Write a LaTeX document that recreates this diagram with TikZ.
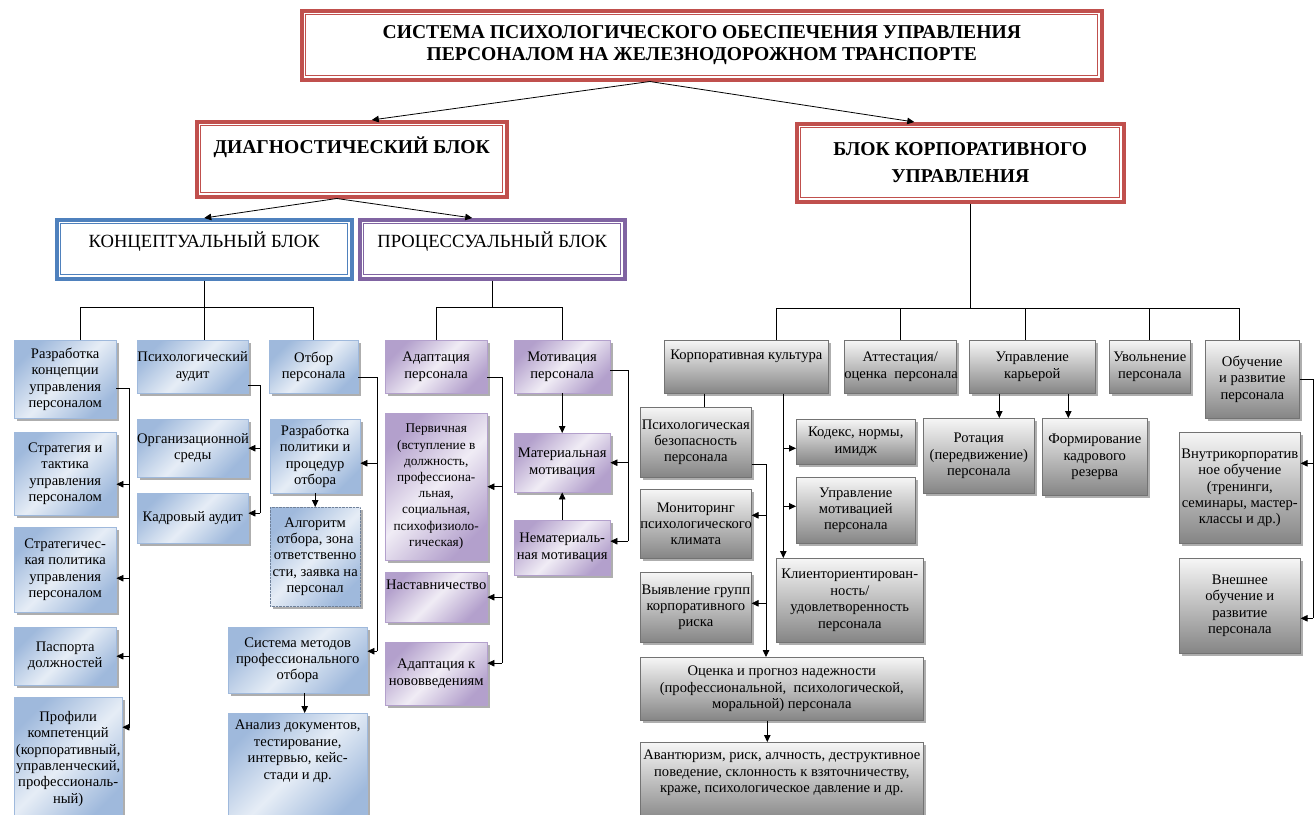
\documentclass[tikz,border=0pt]{standalone}
\usepackage{fontspec}
\setmainfont{Liberation Serif}
\usetikzlibrary{arrows.meta,shadows}
\definecolor{rd}{HTML}{C0504D}
\definecolor{bl}{HTML}{4F81BD}
\definecolor{pu}{HTML}{8064A2}
\definecolor{bfA}{HTML}{9FB9DC}
\definecolor{bfB}{HTML}{E6EDF6}
\definecolor{pfA}{HTML}{B3A0CC}
\definecolor{pfB}{HTML}{F0ECF5}
\definecolor{gA}{HTML}{F6F6F6}
\definecolor{gB}{HTML}{858585}
\newcommand{\bt}[3]{\parbox[c][#2][c]{#1}{\centering #3\par}}
\newcommand{\btt}[4]{\parbox[c][#2][t]{#1}{\centering\vspace*{#3}#4\par}}
\newcommand{\hd}{\fontsize{19.6}{21.5}\selectfont\bfseries}
\tikzset{
  frame/.style={anchor=north west, inner sep=0pt, fill=white, line width=3.5pt,
    path picture={\draw[#1, line width=0.8pt]
      ([shift={(4pt,-4pt)}]path picture bounding box.north west) rectangle
      ([shift={(-4pt,4pt)}]path picture bounding box.south east);}},
  redframe/.style={frame=rd, draw=rd},
  blueframe/.style={frame=bl, draw=bl},
  purpframe/.style={frame=pu, draw=pu},
  sh/.style={drop shadow={shadow xshift=3pt, shadow yshift=-3pt, opacity=0.45, fill=black!70}},
  bbox/.style={anchor=north west, inner sep=0pt, draw=bfA, line width=0.4pt, sh,
    left color=bfA, right color=bfA, middle color=bfB, shading angle=45},
  pbox/.style={anchor=north west, inner sep=0pt, draw=pfA, line width=0.4pt, sh,
    left color=pfA, right color=pfA, middle color=pfB, shading angle=45},
  gbox/.style={anchor=north west, inner sep=0pt, draw=black!55, line width=0.6pt, sh,
    top color=gA, bottom color=gB},
  line/.style={draw=black, line width=0.8pt},
  arr/.style={line, -{Triangle[length=7pt,width=6.5pt]}},
}
\begin{document}
\begin{tikzpicture}[x=1pt,y=-1pt, font=\fontsize{14.6}{16.4}\selectfont]
\path[use as bounding box, fill=white] (0,0) rectangle (1316,814);

% level 1-3
\node[redframe] (title) at (300,9) {\bt{800pt}{69pt}{\hd СИСТЕМА ПСИХОЛОГИЧЕСКОГО ОБЕСПЕЧЕНИЯ УПРАВЛЕНИЯ\\ПЕРСОНАЛОМ НА ЖЕЛЕЗНОДОРОЖНОМ ТРАНСПОРТЕ}};
\node[redframe] (diag) at (195,120) {\btt{310pt}{75pt}{15pt}{\hd ДИАГНОСТИЧЕСКИЙ БЛОК}};
\node[redframe] (corp) at (795,122) {\bt{327pt}{78pt}{\fontsize{19.6}{27}\selectfont\bfseries БЛОК КОРПОРАТИВНОГО\\УПРАВЛЕНИЯ}};
\node[blueframe] (konc) at (55,218) {\btt{295pt}{59pt}{12pt}{\fontsize{18.6}{20}\selectfont КОНЦЕПТУАЛЬНЫЙ БЛОК}};
\node[purpframe] (proc) at (358,218) {\btt{265pt}{59pt}{12pt}{\fontsize{18.6}{20}\selectfont ПРОЦЕССУАЛЬНЫЙ БЛОК}};

% conceptual block
\node[bbox] (razr) at (14,340) {\bt{102pt}{78pt}{Разработка\\концепции\\управления\\персоналом}};
\node[bbox] (strat) at (14,432) {\bt{102pt}{83pt}{Стратегия и\\тактика\\управления\\персоналом}};
\node[bbox] (stratpol) at (14,527) {\bt{102pt}{85pt}{Стратегичес-\\кая политика\\управления\\персоналом}};
\node[bbox] (pasp) at (14,627) {\bt{102pt}{58pt}{Паспорта\\должностей}};
\node[bbox] (prof) at (14,697) {\bt{108pt}{123pt}{Профили\\компетенций\\(корпоративный,\\управленческий,\\профессиональ-\\ный)}};
\node[bbox] (psaud) at (137,340) {\bt{111pt}{53pt}{Психологический\\аудит}};
\node[bbox] (org) at (137,419) {\bt{111pt}{58pt}{Организационной\\среды}};
\node[bbox] (kadr) at (137,493) {\bt{111pt}{50pt}{Кадровый аудит}};
\node[bbox] (otbor) at (269,340) {\bt{89pt}{53pt}{Отбор\\персонала}};
\node[bbox] (razpol) at (270,419) {\bt{90pt}{74pt}{Разработка\\политики и\\процедур\\отбора}};
\node[bbox, draw=bfA!70!black, densely dotted] (algo) at (270,507) {\bt{90pt}{99pt}{Алгоритм\\отбора, зона\\ответственно\\сти, заявка на\\персонал}};
\node[bbox] (sist) at (228,627) {\bt{139pt}{66pt}{Система методов\\профессионального\\отбора}};
\node[bbox] (anal) at (228,713) {\btt{139pt}{110pt}{7pt}{Анализ документов,\\тестирование,\\интервью, кейс-\\стади и др.}};

% process block
\node[pbox] (adapt) at (385,340) {\bt{102pt}{53pt}{Адаптация\\персонала}};
\node[pbox] (perv) at (385,413) {\bt{102pt}{147pt}{\fontsize{13.3}{16.2}\selectfont Первичная\\(вступление в\\должность,\\профессиона-\\льная,\\социальная,\\психофизиоло-\\гическая)}};
\node[pbox] (nast) at (385,572) {\btt{102pt}{50pt}{8pt}{Наставничество}};
\node[pbox] (adnov) at (385,642) {\bt{102pt}{63pt}{Адаптация к\\нововведениям}};
\node[pbox] (motiv) at (514,340) {\bt{96pt}{53pt}{Мотивация\\персонала}};
\node[pbox] (mat) at (514,433) {\bt{96pt}{59pt}{Материальная\\мотивация}};
\node[pbox] (nemat) at (514,520) {\bt{96pt}{55pt}{Нематериаль-\\ная мотивация}};

% corporate block
\node[gbox] (kk) at (664,340) {\btt{164pt}{53pt}{10pt}{Корпоративная культура}};
\node[gbox] (att) at (844,340) {\bt{112pt}{53pt}{Аттестация/\\\mbox{оценка\ \ персонала}}};
\node[gbox] (upk) at (969,340) {\bt{126pt}{53pt}{Управление\\карьерой}};
\node[gbox] (uvol) at (1109,340) {\bt{81pt}{53pt}{Увольнение\\персонала}};
\node[gbox] (obuch) at (1205,340) {\bt{94pt}{78pt}{Обучение\\и развитие\\персонала}};
\node[gbox] (psb) at (640,407) {\bt{111pt}{70pt}{Психологическая\\безопасность\\персонала}};
\node[gbox] (monit) at (640,489) {\bt{111pt}{69pt}{Мониторинг\\психологического\\климата}};
\node[gbox] (vyyav) at (640,572) {\bt{111pt}{70pt}{\mbox{Выявление групп}\\корпоративного\\риска}};
\node[gbox] (kodeks) at (796,419) {\bt{119pt}{45pt}{Кодекс, нормы,\\имидж}};
\node[gbox] (upmot) at (796,477) {\bt{119pt}{66pt}{Управление\\мотивацией\\персонала}};
\node[gbox] (klient) at (776,558) {\bt{147pt}{84pt}{Клиенториентирован-\\ность/\\удовлетворенность\\персонала}};
\node[gbox] (ocenka) at (640,657) {\bt{283pt}{63pt}{Оценка и прогноз надежности\\(профессиональной,\ \ психологической,\\моральной) персонала}};
\node[gbox] (avant) at (640,742) {\btt{283pt}{80pt}{8pt}{Авантюризм, риск, алчность, деструктивное\\поведение, склонность к взяточничеству,\\краже, психологическое давление и др.}};
\node[gbox] (rot) at (923,418) {\bt{111pt}{75pt}{Ротация\\(передвижение)\\персонала}};
\node[gbox] (form) at (1042,418) {\bt{105pt}{77pt}{Формирование\\кадрового\\резерва}};
\node[gbox] (vnutr) at (1179,432) {\bt{121pt}{111pt}{Внутрикорпоратив\\ное обучение\\(тренинги,\\семинары, мастер-\\классы и др.)}};
\node[gbox] (vnesh) at (1179,558) {\bt{121pt}{95pt}{Внешнее\\обучение и\\развитие\\персонала}};

% ---------- connectors ----------
\coordinate (tA) at ([xshift=-52pt]title.south);
\draw[arr] (tA) -- ([xshift=20pt]diag.north);
\draw[arr] (tA) -- ([xshift=-46pt]corp.north);
\coordinate (dA) at ([xshift=-15pt]diag.south);
\draw[arr] (dA) -- (konc.north);
\draw[arr] (dA) -- ([xshift=-20pt]proc.north);

\coordinate (kb) at (0,307);
\draw[line] (konc.south) -- (konc.south |- psaud.north);
\coordinate (rz) at ([xshift=15pt]razr.north);
\draw[line] (rz) |- (kb -| otbor.north) -- (otbor.north);
\draw[line] (proc.south) -- (proc.south |- kb);
\draw[line] (adapt.north) |- (kb -| motiv.north) -- (motiv.north);

\coordinate (cb) at (0,308);
\coordinate (cS) at ([xshift=10pt]corp.south);
\draw[line] (cS) -- (cS |- cb);
\coordinate (kkT) at ([xshift=30pt]kk.north);
\coordinate (obT) at ([xshift=-13pt]obuch.north);
\coordinate (upT) at ([xshift=-7pt]upk.north);
\draw[line] (kkT) |- (obT |- cb) -- (obT);
\draw[line] (att.north) -- (att.north |- cb);
\draw[line] (upT) -- (upT |- cb);
\draw[line] (uvol.north) -- (uvol.north |- cb);

% razr spine
\coordinate (s1) at (129,0);
\coordinate (r1) at ([yshift=-9pt]razr.east);
\coordinate (pf) at ([yshift=31.5pt]prof.east);
\coordinate (st) at ([yshift=-10.5pt]strat.east);
\coordinate (sp) at ([yshift=-8.5pt]stratpol.east);
\draw[line] (r1) -| (s1 |- pf);
\draw[arr] (s1 |- st) -- (st);
\draw[arr] (s1 |- sp) -- (sp);
\draw[arr] (s1 |- pasp.east) -- (pasp.east);
\draw[arr] (s1 |- pf) -- (pf);

% psaud spine
\coordinate (s2) at (260,0);
\coordinate (pa) at ([yshift=-18.5pt]psaud.east);
\coordinate (kd) at ([yshift=5pt]kadr.east);
\draw[line] (pa) -| (s2 |- kd);
\draw[arr] (s2 |- org.east) -- (org.east);
\draw[arr] (s2 |- kd) -- (kd);

% otbor spine
\coordinate (s3) at (377,0);
\coordinate (ot) at ([yshift=-10.5pt]otbor.east);
\coordinate (rp) at ([yshift=-7pt]razpol.east);
\coordinate (si) at ([yshift=9pt]sist.east);
\draw[line] (ot) -| (s3 |- si);
\draw[arr] (s3 |- rp) -- (rp);
\draw[arr] (s3 |- si) -- (si);
\draw[arr] (razpol.south) -- (algo.north);
\coordinate (sS) at ([xshift=7pt]sist.south);
\draw[arr] (sS) -- (sS |- anal.north);

% adapt spine
\coordinate (s4) at (502,0);
\coordinate (ad) at ([yshift=-10.5pt]adapt.east);
\coordinate (an) at ([yshift=10.5pt]adnov.east);
\draw[line] (ad) -| (s4 |- an);
\draw[arr] (s4 |- perv.east) -- (perv.east);
\draw[arr] (s4 |- nast.east) -- (nast.east);
\draw[arr] (s4 |- an) -- (an);

% motiv spine
\coordinate (s5) at (628,0);
\coordinate (mo) at ([yshift=-3.5pt]motiv.east);
\coordinate (nm) at ([yshift=6.5pt]nemat.east);
\draw[line] (mo) -| (s5 |- nm);
\draw[arr] (s5 |- mat.east) -- (mat.east);
\draw[arr] (s5 |- nm) -- (nm);
\draw[arr] (motiv.south) -- (mat.north);
\draw[arr] (nemat.north) -- (mat.south);

% corporate culture
\coordinate (kkL) at ([xshift=-42pt]kk.south);
\coordinate (kkR) at ([xshift=37pt]kk.south);
\draw[line] (kkL) -- (kkL |- psb.north);
\draw[arr] (kkR) -- (kkR |- klient.north);
\coordinate (kw) at ([yshift=-6.5pt]kodeks.west);
\coordinate (uw) at ([yshift=4pt]upmot.west);
\draw[arr] (kkR |- kw) -- (kw);
\draw[arr] (kkR |- uw) -- (uw);

% psb spine
\coordinate (s6) at (766,0);
\coordinate (pb) at ([yshift=-22pt]psb.east);
\coordinate (mn) at ([yshift=8.5pt]monit.east);
\coordinate (vy) at ([yshift=4pt]vyyav.east);
\draw[arr] (pb) -| (s6 |- ocenka.north);
\draw[arr] (s6 |- mn) -- (mn);
\draw[arr] (s6 |- vy) -- (vy);
\coordinate (oS) at ([xshift=-14.5pt]ocenka.south);
\draw[arr] (oS) -- (oS |- avant.north);

% career
\coordinate (u1) at ([xshift=-33pt]upk.south);
\coordinate (u2) at ([xshift=36pt]upk.south);
\draw[arr] (u1) -- (u1 |- rot.north);
\draw[arr] (u2) -- (u2 |- form.north);

% training spine
\coordinate (s7) at (1313,0);
\coordinate (vn) at ([yshift=24.5pt]vnutr.east);
\coordinate (ve) at ([yshift=-12.5pt]vnesh.east);
\draw[line] (obuch.east) -| (s7 |- ve);
\draw[arr] (s7 |- vn) -- (vn);
\draw[arr] (s7 |- ve) -- (ve);
\end{tikzpicture}
\end{document}
